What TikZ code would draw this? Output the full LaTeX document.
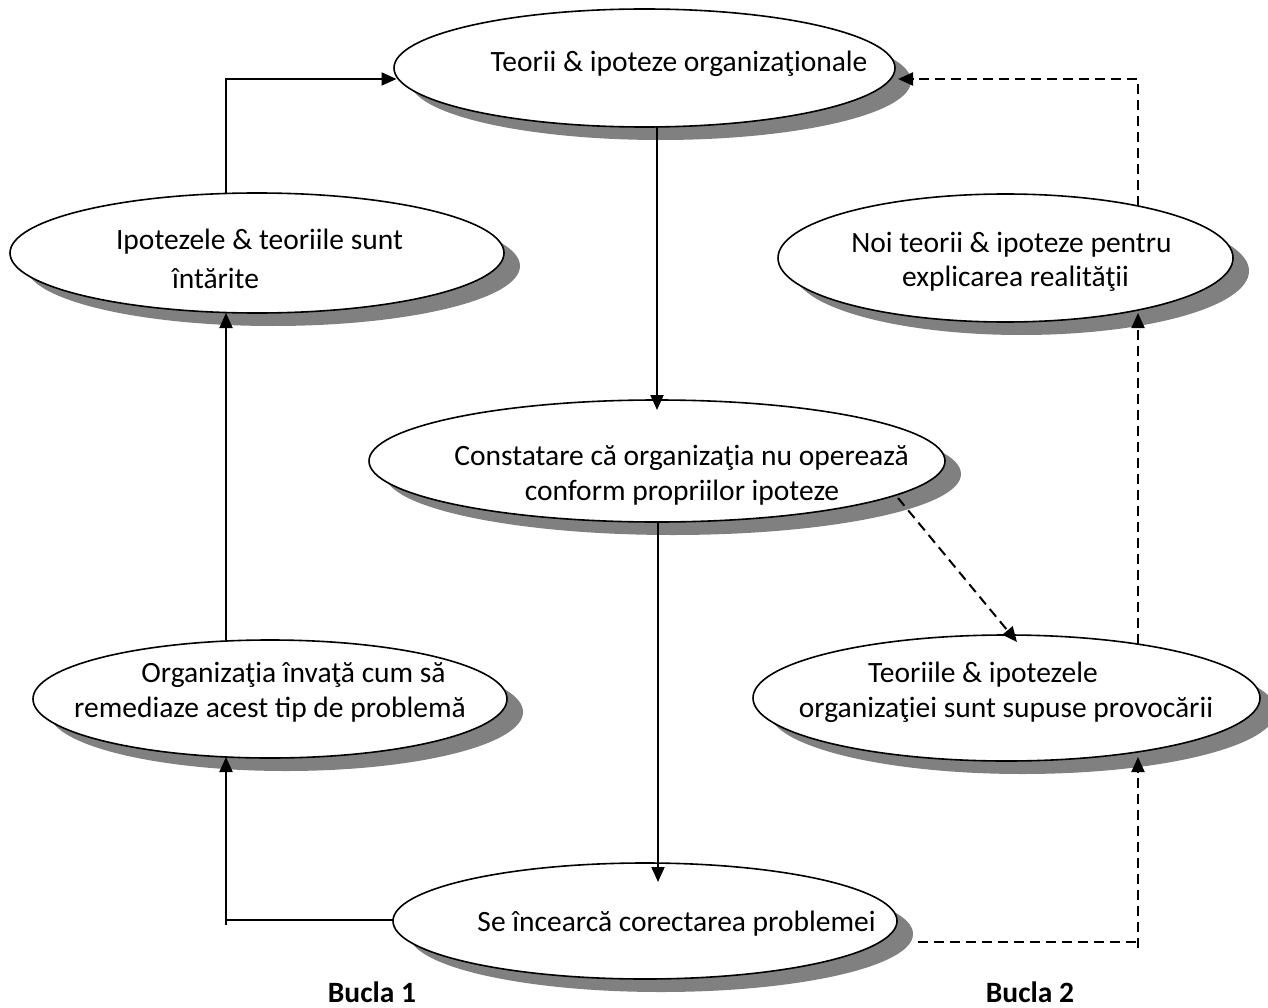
\documentclass[tikz,border=0pt]{standalone}
\usepackage{fontspec}
\setmainfont{Carlito}
\usetikzlibrary{shapes.geometric,shadows,arrows.meta,calc}
\definecolor{shadowgray}{RGB}{128,128,128}
\begin{document}
\begin{tikzpicture}[x=1pt,y=-1pt,
  bubble/.style={ellipse, draw=black, line width=1.6pt, fill=white, inner sep=0pt,
    drop shadow={shadow xshift=16pt, shadow yshift=-13pt, fill=shadowgray, opacity=1}},
  lbl/.style={anchor=base, inner sep=0pt, font=\fontsize{29.5}{35}\selectfont},
  boldlbl/.style={lbl, font=\fontsize{29.5}{35}\selectfont\bfseries},
  flow/.style={line width=2pt},
  link/.style={flow, -{Triangle[length=15pt,width=13pt]}},
  dflow/.style={flow, dash pattern=on 10pt off 6pt},
  dlink/.style={link, dash pattern=on 10pt off 6pt}]

% page
\fill[white] (0,0) rectangle (1268,1008);
\useasboundingbox (0,0) rectangle (1268,1008);

% ellipses
\node[bubble, minimum width=501pt, minimum height=118pt] (top) at (644.5,68) {};
\node[bubble, minimum width=494pt, minimum height=120pt] (ipo) at (257,253) {};
\node[bubble, minimum width=455pt, minimum height=128pt] (noi) at (1005.5,258) {};
\node[bubble, minimum width=576pt, minimum height=122pt] (con) at (657,461) {};
\node[bubble, minimum width=474pt, minimum height=118pt] (org) at (270,699) {};
\node[bubble, minimum width=507pt, minimum height=126pt] (teo) at (1006.5,698) {};
\node[bubble, minimum width=504pt, minimum height=116pt] (se) at (645,921) {};

% texts
\node[lbl] (t-top) at (679,72) {Teorii \& ipoteze organizaţionale};
\node[lbl] (t-ipo1) at (259.5,250) {Ipotezele \& teoriile sunt};
\node[lbl] (t-ipo2) at (215.5,288) {întărite};
\node[lbl] (t-noi1) at (1011.5,252) {Noi teorii \& ipoteze pentru};
\node[lbl] (t-noi2) at (1015.5,287) {explicarea realităţii};
\node[lbl] (t-con1) at (681.5,465) {Constatare că organizaţia nu operează};
\node[lbl] (t-con2) at (682,500) {conform propriilor ipoteze};
\node[lbl] (t-org1) at (293.5,682) {Organizaţia învaţă cum să};
\node[lbl] (t-org2) at (270,717) {remediaze acest tip de problemă};
\node[lbl] (t-teo1) at (983,682) {Teoriile \& ipotezele};
\node[lbl] (t-teo2) at (1006,717) {organizaţiei sunt supuse provocării};
\node[lbl] (t-se) at (676.5,931) {Se încearcă corectarea problemei};
\node[boldlbl] (b1) at (372,1002) {Bucla 1};
\node[boldlbl] (b2) at (1030,1002) {Bucla 2};

% loop 1 (solid)
\draw[link] ($(top.center)+(12.5,59)$) -- ($(con.center)+(0,-51)$);
\draw[link] ($(con.center)+(1,61)$) -- ($(se.center)+(13,-39)$);
\draw[flow] ($(se.center)+(-252,-1)$) -- ($(org.center)+(-44,221)$);
\draw[link] ($(org.center)+(-44,226)$) -- ($(org.center)+(-44,58)$);
\draw[link] ($(org.center)+(-44,-58)$) -- ($(ipo.center)+(-31,60)$);
\draw[link] ($(ipo.center)+(-31,-60)$) |- ($(top.center)+(-248,11)$);

% loop 2 (dashed)
\draw[dlink] ($(con.center)+(241,37)$) -- ($(teo.center)+(10.5,-56)$);
\draw[dflow] ($(se.center)+(273,21)$) -- ($(teo.center)+(131.5,244)$);
\draw[dlink] ($(teo.center)+(131.5,250)$) -- ($(teo.center)+(131.5,59)$);
\draw[dlink] ($(teo.center)+(131.5,-54)$) -- ($(noi.center)+(132.5,55)$);
\draw[dlink] ($(noi.center)+(132.5,-52)$) |- ($(top.center)+(253.5,11)$);
\end{tikzpicture}
\end{document}
